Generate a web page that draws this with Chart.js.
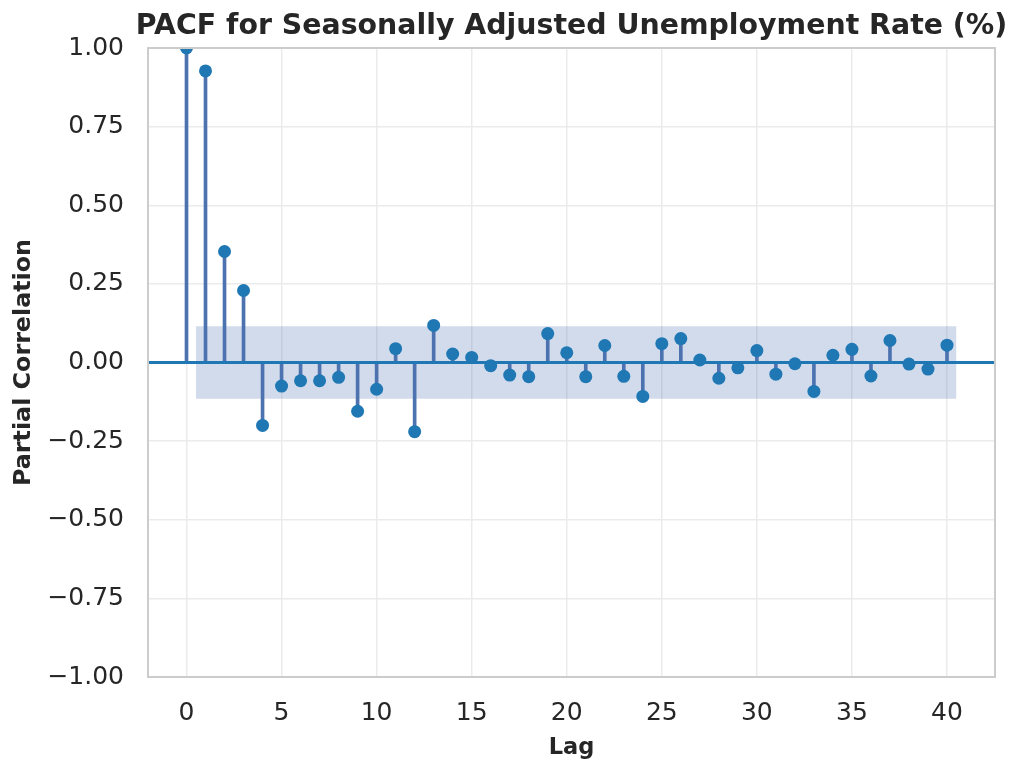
<!DOCTYPE html>
<html>
<head>
<meta charset="utf-8">
<title>PACF for Seasonally Adjusted Unemployment Rate (%)</title>
<script src="https://cdn.jsdelivr.net/npm/chart.js@4.4.1/dist/chart.umd.min.js"></script>
<style>
  html, body { margin: 0; padding: 0; background: #ffffff; }
  canvas { display: block; }
</style>
</head>
<body>
<canvas id="pacf" width="1013" height="765"></canvas>
<script>
// Partial autocorrelation by lag
const lags = [0, 1, 2, 3, 4, 5, 6, 7, 8, 9, 10, 11, 12, 13, 14, 15, 16, 17, 18, 19, 20,
              21, 22, 23, 24, 25, 26, 27, 28, 29, 30, 31, 32, 33, 34, 35, 36, 37, 38, 39, 40];
const pacfValues = [1.000, 0.927, 0.353, 0.229, -0.200, -0.075, -0.058, -0.058, -0.047, -0.155, -0.085,
                    0.044, -0.220, 0.118, 0.027, 0.016, -0.010, -0.040, -0.045, 0.092, 0.031,
                    -0.045, 0.054, -0.044, -0.108, 0.060, 0.076, 0.008, -0.050, -0.017, 0.038,
                    -0.037, -0.004, -0.092, 0.023, 0.042, -0.043, 0.070, -0.005, -0.021, 0.055];
// 95% confidence band (±1.96/sqrt(n)) and its lag extent
const confBound = 0.115;
const bandLags = [0.5, 40.5];
// Axis extents and tick labels
const xRange = [-2.025, 42.525];
const xTicks = [0, 5, 10, 15, 20, 25, 30, 35, 40];
const yTicks = [-1.00, -0.75, -0.50, -0.25, 0.00, 0.25, 0.50, 0.75, 1.00];

const TEXT = '#262626';
const FONT = "'DejaVu Sans', 'Noto Sans', sans-serif";

// Title centred over the plotting area, plus a full frame around it
const axesDecor = {
  id: 'axesDecor',
  afterDatasetsDraw(chart) {
    const { ctx, chartArea: a } = chart;
    ctx.save();
    ctx.strokeStyle = '#cccccc';
    ctx.lineWidth = 2;
    ctx.strokeRect(a.left, a.top, a.right - a.left, a.bottom - a.top);
    ctx.restore();
  },
  afterDraw(chart, args, opts) {
    const { ctx, chartArea: a } = chart;
    ctx.save();
    ctx.font = 'bold 28.4px ' + FONT;
    ctx.fillStyle = TEXT;
    ctx.textAlign = 'center';
    ctx.textBaseline = 'alphabetic';
    ctx.fillText(opts.text, (a.left + a.right) / 2, a.top - 14.5);
    ctx.restore();
  }
};

const points = lags.map((x, i) => ({ x, y: pacfValues[i] }));
const fmt = v => (Math.abs(v) < 1e-9 ? 0 : v).toFixed(2).replace('-', '\u2212');

new Chart(document.getElementById('pacf'), {
  type: 'scatter',
  data: {
    datasets: [
      {
        type: 'scatter',
        label: 'PACF',
        data: points,
        pointRadius: 6.5,
        pointBackgroundColor: '#1f77b4',
        pointBorderWidth: 0,
        order: 0
      },
      {
        type: 'line',
        label: 'zero',
        data: [{ x: xRange[0], y: 0 }, { x: xRange[1], y: 0 }],
        borderColor: '#1f77b4',
        borderWidth: 2.8,
        pointRadius: 0,
        fill: false,
        order: 1
      },
      {
        type: 'line',
        label: 'confidence',
        data: bandLags.map(x => ({ x, y: confBound })),
        borderWidth: 0,
        borderColor: 'rgba(0,0,0,0)',
        backgroundColor: 'rgba(76,114,176,0.26)',
        pointRadius: 0,
        fill: { value: -confBound },
        order: 2
      },
      {
        type: 'bar',
        label: 'stems',
        data: points,
        backgroundColor: '#4c72b0',
        borderWidth: 0,
        barThickness: 3,
        order: 3
      }
    ]
  },
  options: {
    responsive: false,
    animation: false,
    events: [],
    layout: { padding: { top: 48, right: 18, bottom: 0, left: 0 } },
    plugins: {
      legend: { display: false },
      tooltip: { enabled: false },
      title: { display: false },
      axesDecor: { text: 'PACF for Seasonally Adjusted Unemployment Rate (%)' }
    },
    scales: {
      x: {
        type: 'linear',
        min: xRange[0],
        max: xRange[1],
        offset: false,
        afterBuildTicks: s => { s.ticks = xTicks.map(v => ({ value: v })); },
        afterFit: s => { s.height = 88; },
        grid: { color: '#ebebeb', lineWidth: 1.5, drawTicks: false, offset: false },
        border: { display: false },
        ticks: {
          color: TEXT,
          font: { family: FONT, size: 25 },
          padding: 21,
          maxRotation: 0,
          callback: v => String(v)
        },
        title: {
          display: true,
          text: 'Lag',
          color: TEXT,
          font: { family: FONT, size: 22.5, weight: 'bold' },
          padding: { top: 0, bottom: 3.5 }
        }
      },
      y: {
        type: 'linear',
        min: -1,
        max: 1,
        afterBuildTicks: s => { s.ticks = yTicks.map(v => ({ value: v })); },
        afterFit: s => { s.width = 148; },
        grid: { color: '#ebebeb', lineWidth: 1.5, drawTicks: false },
        border: { display: false },
        ticks: {
          color: TEXT,
          font: { family: FONT, size: 25 },
          padding: 24,
          callback: v => fmt(v)
        },
        title: {
          display: true,
          text: 'Partial Correlation',
          color: TEXT,
          font: { family: FONT, size: 23.8, weight: 'bold' },
          padding: { top: 10, bottom: 0 }
        }
      }
    }
  },
  plugins: [axesDecor]
});
</script>
</body>
</html>
